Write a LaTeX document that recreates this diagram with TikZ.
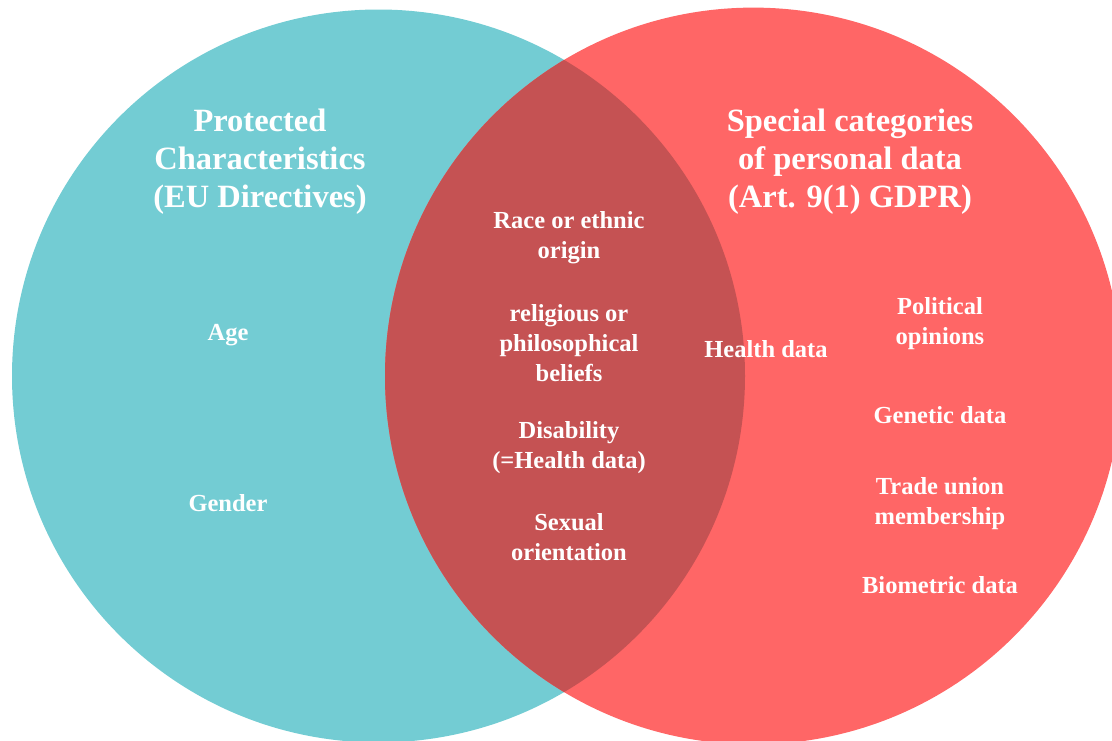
\documentclass[tikz,border=0pt]{standalone}
\usepackage{fontspec}
\setmainfont{Liberation Serif}
\usepackage{tikz}
\usetikzlibrary{positioning}
\definecolor{venteal}{RGB}{115, 204, 211}
\definecolor{venred}{RGB}{255, 102, 102}
\definecolor{venoverlap}{RGB}{197, 82, 83}

\tikzset{
  titletext/.style={text=white, align=center, font=\bfseries\fontsize{32.5}{38}\selectfont},
  itemtext/.style={text=white, align=center, font=\bfseries\fontsize{24.5}{30}\selectfont}
}

\begin{document}
\begin{tikzpicture}[x=1pt, y=-1pt]
            \useasboundingbox (0,0) rectangle (1112,740);
            % the two sets
            \begin{scope}
                \clip (0,0) rectangle (1112,740);
                \fill[venteal] (378.5,376) circle (366.5pt);
                \fill[venred]  (753.4,376) circle (368.4pt);
                \begin{scope}
                    \clip (378.5,376) circle (366.5pt);
                    \fill[venoverlap] (753.4,376) circle (368.4pt);
                \end{scope}
            \end{scope}
            % titles
            \node[titletext] (protected) at (260,162) {Protected\\Characteristics\\(EU Directives)};
            \node[titletext] (special)   at (850,162) {Special categories\\of personal data\\(Art. 9(1) GDPR)};
            % left only
            \node[itemtext] (age)    at (228,335) {Age};
            \node[itemtext] (gender) at (228,503) {Gender};
            % both
            \node[itemtext] (race)       at (569,238) {Race or ethnic\\origin};
            \node[itemtext] (religion)   at (569,343) {religious or\\philosophical\\beliefs};
            \node[itemtext] (disability) at (569,448) {Disability\\(=Health data)};
            \node[itemtext] (sexual)     at (569,537) {Sexual\\orientation};
            % right only
            \node[itemtext] (health)    at (766,349) {Health data};
            \node[itemtext] (political) at (940,324) {Political\\opinions};
            \node[itemtext] (genetic)   at (940,415) {Genetic data};
            \node[itemtext] (trade)     at (940,504) {Trade union\\membership};
            \node[itemtext] (biometric) at (940,585) {Biometric data};
        \end{tikzpicture}
\end{document}
